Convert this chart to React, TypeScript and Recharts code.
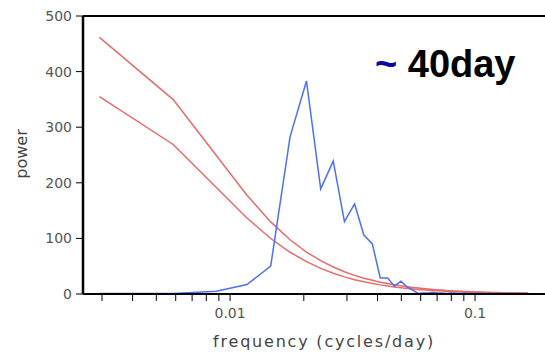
import React from "react";
import {
  LineChart,
  Line,
  XAxis,
  YAxis,
  ReferenceLine,
  Label,
} from "recharts";

// frequency (cycles/day) of each spectral estimate
const freqs = [
  0.00293, 0.00586, 0.00879, 0.01172, 0.01465, 0.01758, 0.02051, 0.02344,
  0.02637, 0.0293, 0.03223, 0.03516, 0.03809, 0.04102, 0.04395, 0.04688,
  0.04981, 0.05274, 0.05567, 0.0586, 0.06153, 0.06446, 0.06739, 0.07032,
  0.07325, 0.07618, 0.07911, 0.08204, 0.08497, 0.0879, 0.09083, 0.09376,
  0.09669, 0.09962, 0.10255, 0.10548, 0.10841, 0.11134, 0.11427, 0.1172,
  0.12013, 0.12306, 0.12599, 0.12892, 0.13185, 0.13478, 0.13771, 0.14064,
  0.14357, 0.1465, 0.14943, 0.15236, 0.15529, 0.15822, 0.16115, 0.16408,
];

// observed power spectrum
const spectrum = [
  1, 1, 5, 17, 50, 283, 383, 189, 239, 130, 162, 106, 90, 29, 29, 14, 23, 13,
  7, 1, 2, 2, 3, 2, 2, 1, 2, 2, 1, 1, 2, 1, 1, 1, 2, 1, 1, 1, 1, 1, 1, 1, 1,
  1, 1, 1, 1, 1, 1, 1, 1, 1, 1, 1, 1, 1,
];

// red-noise background
const redNoise = [
  355, 268.9, 191.6, 136.6, 99.8, 75.1, 58.1, 46.1, 37.3, 30.8, 25.8, 21.9,
  18.9, 16.4, 14.4, 12.7, 11.3, 10.1, 9.1, 8.24, 7.5, 6.85, 6.29, 5.79, 5.35,
  4.96, 4.61, 4.3, 4.01, 3.76, 3.53, 3.32, 3.13, 2.95, 2.79, 2.65, 2.51, 2.39,
  2.27, 2.17, 2.07, 1.97, 1.89, 1.81, 1.73, 1.66, 1.6, 1.54, 1.48, 1.42, 1.37,
  1.33, 1.28, 1.24, 1.2, 1.16,
];

// confidence level curve
const confidence = [
  461.5, 349.6, 249.1, 177.6, 129.7, 97.6, 75.5, 59.9, 48.5, 40.0, 33.5, 28.5,
  24.6, 21.3, 18.7, 16.5, 14.7, 13.1, 11.8, 10.7, 9.75, 8.9, 8.2, 7.5, 7.0,
  6.4, 6.0, 5.6, 5.2, 4.9, 4.6, 4.3, 4.1, 3.8, 3.6, 3.4, 3.3, 3.1, 3.0, 2.8,
  2.7, 2.6, 2.5, 2.4, 2.2, 2.2, 2.1, 2.0, 1.9, 1.8, 1.8, 1.7, 1.7, 1.6, 1.6,
  1.5,
];

const xTicks = [
  0.003, 0.004, 0.005, 0.006, 0.007, 0.008, 0.009, 0.01, 0.02, 0.03, 0.04,
  0.05, 0.06, 0.07, 0.08, 0.09, 0.1,
];
const xLabels: Record<number, string> = { 0.01: "0.01", 0.1: "0.1" };
const yTicks = [0, 100, 200, 300, 400, 500];

const chartData = freqs.map((f, i) => ({
  f,
  spectrum: spectrum[i],
  redNoise: redNoise[i],
  confidence: confidence[i],
}));

const font = "'DejaVu Sans', sans-serif";

export default function App() {
  return (
    <div style={{ position: "absolute", left: 0, top: 0, width: 545, height: 356, background: "#fff" }}>
      <LineChart
        width={545}
        height={356}
        data={chartData}
        margin={{ top: 16, right: 0, bottom: 0, left: 0 }}
      >
        <XAxis
          dataKey="f"
          type="number"
          scale="log"
          domain={[0.00251, 0.193]}
          allowDataOverflow
          ticks={xTicks}
          interval={0}
          tickFormatter={(v: number) => xLabels[v] ?? ""}
          height={62}
          tickSize={7}
          tickMargin={7}
          axisLine={{ stroke: "#000", strokeWidth: 2 }}
          tickLine={{ stroke: "#000", strokeWidth: 1 }}
          tick={{ fill: "#555", fontSize: 14, fontFamily: font }}
        >
          <Label
            content={() => (
              <text
                x={324}
                y={347}
                textAnchor="middle"
                fill="#444"
                fontSize={16}
                fontFamily={font}
                letterSpacing={1.8}
              >
                frequency (cycles/day)
              </text>
            )}
          />
        </XAxis>
        <YAxis
          type="number"
          domain={[0, 500]}
          ticks={yTicks}
          width={83}
          tickSize={7}
          tickMargin={4}
          axisLine={{ stroke: "#000", strokeWidth: 2.5 }}
          tickLine={{ stroke: "#000", strokeWidth: 1 }}
          tick={{ fill: "#555", fontSize: 14, fontFamily: font }}
        >
          <Label
            content={() => (
              <text
                x={27}
                y={154}
                transform="rotate(-90 27 154)"
                textAnchor="middle"
                fill="#444"
                fontSize={16}
                fontFamily={font}
              >
                power
              </text>
            )}
          />
        </YAxis>
        <ReferenceLine y={500} stroke="#000" strokeWidth={2} />
        <Line
          dataKey="confidence"
          stroke="#e86a6a"
          strokeWidth={1.5}
          dot={false}
          isAnimationActive={false}
        />
        <Line
          dataKey="redNoise"
          stroke="#e86a6a"
          strokeWidth={1.5}
          dot={false}
          isAnimationActive={false}
        />
        <Line
          dataKey="spectrum"
          stroke="#4d70f5"
          strokeWidth={1.5}
          dot={false}
          isAnimationActive={false}
        />
      </LineChart>
      <svg
        width={545}
        height={356}
        style={{ position: "absolute", left: 0, top: 0, pointerEvents: "none" }}
      >
        <text
          x={375}
          y={77}
          fontFamily="'Liberation Sans', Arial, sans-serif"
          fontWeight="bold"
          fontSize={38}
        >
          <tspan fill="#0a0a9c">~</tspan>
          <tspan fill="#000"> 40day</tspan>
        </text>
      </svg>
    </div>
  );
}
